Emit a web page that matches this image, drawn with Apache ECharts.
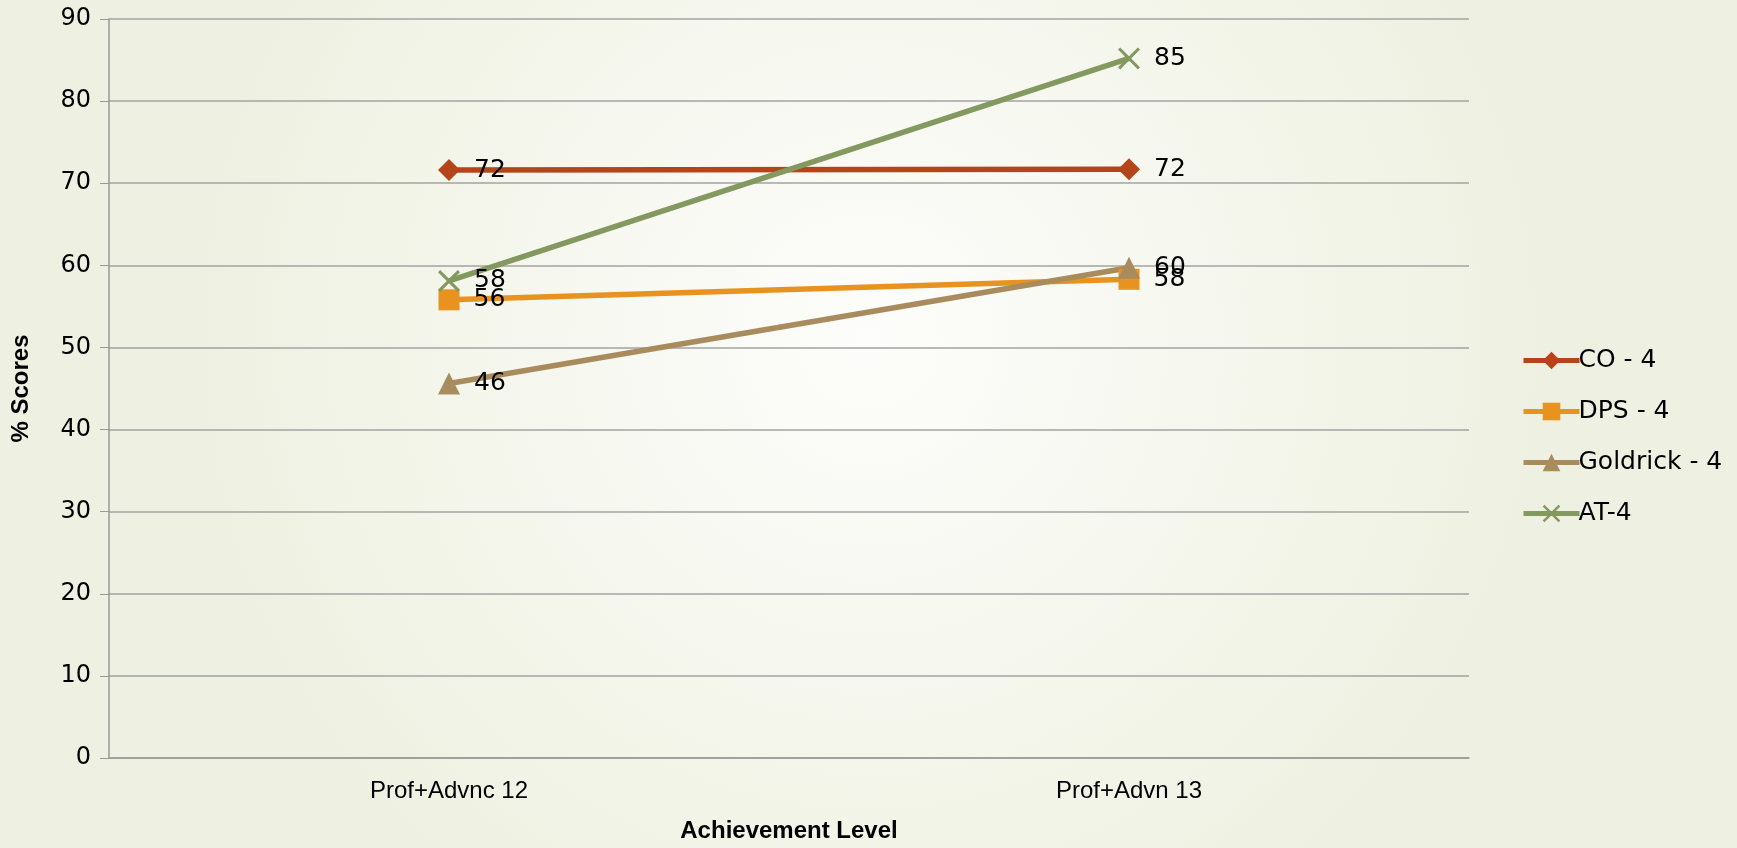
<!DOCTYPE html>
<html lang="en">
<head>
    <meta charset="UTF-8">
    <title>Achievement Level</title>
    <script src="https://cdn.jsdelivr.net/npm/echarts@6/dist/echarts.min.js"></script>
    <style>
        html, body { margin: 0; padding: 0; }
    </style>
</head>
<body>
    <div id="chart" style="width: 1737px; height: 848px;"></div>
    <script>
        // data
        const categories = ['Prof+Advnc 12', 'Prof+Advn 13'];
        const coScores = [71.6, 71.7];
        const dpsScores = [55.8, 58.3];
        const goldrickScores = [45.6, 59.7];
        const atScores = [58.1, 85.2];
        const yTicks = { min: 0, max: 90, interval: 10 };

        const labelFont = '"DejaVu Sans", sans-serif';
        const narrowFont = '"Liberation Sans", sans-serif';
        const crossPath = 'path://M0,1 L1,0 L5,4 L9,0 L10,1 L6,5 L10,9 L9,10 L5,6 L1,10 L0,9 L4,5 Z';

        function makeSeries(name, data, color, symbol, size) {
            return {
                name: name,
                type: 'line',
                data: data,
                symbol: symbol,
                symbolSize: size,
                lineStyle: { color: color, width: 5.5 },
                itemStyle: { color: color },
                label: {
                    show: true,
                    position: 'right',
                    distance: 14,
                    color: '#000',
                    fontSize: 25,
                    fontFamily: labelFont,
                    formatter: p => Math.round(p.value)
                },
                emphasis: { disabled: true }
            };
        }

        const chart = echarts.init(document.getElementById('chart'));
        chart.setOption({
            animation: false,
            backgroundColor: {
                type: 'radial', x: 0.5, y: 0.4, r: 0.8,
                colorStops: [
                    { offset: 0, color: '#fdfdfb' },
                    { offset: 1, color: '#eef1e1' }
                ]
            },
            grid: { left: 109, right: 268, top: 19, bottom: 87 },
            legend: {
                orient: 'vertical',
                left: 1516,
                top: 343,
                itemWidth: 56,
                itemHeight: 22,
                itemGap: 26,
                lineStyle: { width: 5 },
                textStyle: { fontSize: 25, fontFamily: labelFont, color: '#000', padding: [0, 0, 0, -6] },
                data: ['CO - 4', 'DPS - 4', 'Goldrick - 4', 'AT-4']
            },
            xAxis: {
                type: 'category',
                data: categories,
                name: 'Achievement Level',
                nameLocation: 'middle',
                nameGap: 61,
                nameTextStyle: { fontSize: 24, fontWeight: 'bold', fontFamily: narrowFont, color: '#000' },
                axisLine: { lineStyle: { color: '#999', width: 1.5 } },
                axisTick: { length: 9, lineStyle: { color: '#999' } },
                axisLabel: { fontSize: 24, fontFamily: narrowFont, color: '#000', margin: 21 }
            },
            yAxis: {
                type: 'value',
                min: yTicks.min,
                max: yTicks.max,
                interval: yTicks.interval,
                name: '% Scores',
                nameLocation: 'middle',
                nameGap: 76,
                nameTextStyle: { fontSize: 24, fontWeight: 'bold', fontFamily: narrowFont, color: '#000' },
                axisLine: { show: true, lineStyle: { color: '#999', width: 1.5 } },
                axisTick: { show: true, length: 9, lineStyle: { color: '#999' } },
                axisLabel: { fontSize: 24, fontFamily: labelFont, color: '#000', margin: 18 },
                splitLine: { lineStyle: { color: '#a3a3a3', width: 1.5 } }
            },
            series: [
                makeSeries('CO - 4', coScores, '#b4441a', 'diamond', 22),
                makeSeries('DPS - 4', dpsScores, '#e8921f', 'rect', 21),
                makeSeries('Goldrick - 4', goldrickScores, '#a88c5e', 'triangle', 22),
                makeSeries('AT-4', atScores, '#83995f', crossPath, 22)
            ]
        });
    </script>
</body>
</html>
